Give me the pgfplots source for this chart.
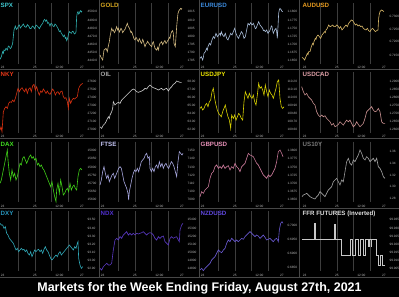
\documentclass[border=0pt]{standalone}
\usepackage{pgfplots}
\pgfplotsset{compat=1.18}
\usepackage{fontspec}
\setmainfont{Liberation Sans}
\definecolor{spxT}{HTML}{40C8D0}\definecolor{spxL}{HTML}{30B0B0}
\definecolor{goldT}{HTML}{D8A820}\definecolor{goldL}{HTML}{D0B880}
\definecolor{eurT}{HTML}{3C8CE0}\definecolor{eurL}{HTML}{A8BCD8}
\definecolor{audT}{HTML}{E89C20}\definecolor{audL}{HTML}{D8B868}
\definecolor{nkyT}{HTML}{E83818}\definecolor{nkyL}{HTML}{D83010}
\definecolor{oilT}{HTML}{A8A8A8}\definecolor{oilL}{HTML}{D0D0D0}
\definecolor{jpyT}{HTML}{F0E800}\definecolor{jpyL}{HTML}{D8D000}
\definecolor{cadT}{HTML}{E0A0A8}\definecolor{cadL}{HTML}{C89090}
\definecolor{daxT}{HTML}{40E020}\definecolor{daxL}{HTML}{40D018}
\definecolor{ftseT}{HTML}{C8C8F8}\definecolor{ftseL}{HTML}{A8A8E0}
\definecolor{gbpT}{HTML}{E890B8}\definecolor{gbpL}{HTML}{C87898}
\definecolor{usT}{HTML}{787878}\definecolor{usL}{HTML}{A0A0A0}
\definecolor{dxyT}{HTML}{2898C0}\definecolor{dxyL}{HTML}{30A8B8}
\definecolor{ndxT}{HTML}{5030D0}\definecolor{ndxL}{HTML}{5838C0}
\definecolor{nzdT}{HTML}{6048E0}\definecolor{nzdL}{HTML}{6858D0}
\definecolor{ffrT}{HTML}{E0E0E0}\definecolor{ffrL}{HTML}{C8C8C8}
\pgfplotsset{
 every axis title/.style={at={(0,1)}, anchor=north west, inner sep=0.5bp, yshift=0.5bp,
     font=\bfseries\fontsize{6.2}{6.2}\selectfont},
 panel/.style={
  scale only axis, width=83bp, height=60.5bp, anchor=north west,
  y dir=reverse, clip=false,
  axis line style={draw=none}, tick style={draw=none},
  xmin=0, xmax=249,
  xtick={8,105,178,246}, xticklabels={23,25,12:00,27},
  yticklabel pos=right,
  ticklabel style={font=\fontsize{3.2}{3.5}\selectfont, text=white!72!black},
  xticklabel style={yshift=0.6bp},
  yticklabel style={xshift=1bp},
  extra x ticks={55,105,155,205}, extra x tick labels={},
  extra x tick style={grid=major},
  major grid style={draw=white!24!black, line width=0.8bp},
  every axis plot/.append style={line width=0.6bp, mark=none},
 },
 c3/.style={xmin=6, xmax=255, xtick={14,111,184,252}, extra x ticks={61,111,161,211}},
 r0/.style={ymin=9, ymax=190.5, ytick={35,60,85,109,133,157,181}},
 r1/.style={ymin=22, ymax=203, ytick={48,73,98,122,146,170,194}},
 r2/.style={ymin=19.8, ymax=201.3, ytick={46,71,96,120,144,168,192}},
 r2d/.style={ymin=4.8, ymax=186.3, ytick={31,56,81,105,129,153,177}},
 r3/.style={ymin=32.7, ymax=214.2, ytick={59,84,109,133,157,181,205}},
}
\begin{document}
\begin{tikzpicture}[x=1bp,y=1bp]
\useasboundingbox (0,0) rectangle (399,297);
\fill[black] (0,0) rectangle (399,297);
\foreach \xx in {99.5,199.5,299.5} {\draw[white!28!black, line width=0.5bp] (\xx,297) -- (\xx,19.8);}
\foreach \yy in {227.7,158.4,89.1,19.8} {\draw[white!28!black, line width=0.5bp] (0,\yy) -- (399,\yy);}
\coordinate (p00) at (0,294);   \coordinate (p01) at (100,294);   \coordinate (p02) at (200,294);   \coordinate (p03) at (302,294);
\coordinate (p10) at (0,224.7); \coordinate (p11) at (100,224.7); \coordinate (p12) at (200,224.7); \coordinate (p13) at (302,224.7);
\coordinate (p20) at (0,155.4); \coordinate (p21) at (100,155.4); \coordinate (p22) at (200,155.4); \coordinate (p23) at (302,155.4);
\coordinate (p30) at (0,86.1);  \coordinate (p31) at (100,86.1);  \coordinate (p32) at (200,86.1);  \coordinate (p33) at (302,86.1);

% ---------------- Row 0 ----------------
\begin{axis}[panel, r0, at={(p00)}, title={SPX}, title style={text=spxT},
  yticklabels={4500.0,4490.0,4480.0,4470.0,4460.0,4450.0,4440.0}]
\addplot[spxL] coordinates {(0,178)(4,170)(8,155)(10,160)(12,150)(15,152)(18,145)(22,150)(25,138)(28,140)(31,146)(34,142)(38,130)(42,90)(46,78)(49,88)(52,85)(55,78)(58,75)(61,84)(64,80)(67,76)(70,72)(74,80)(78,82)(82,74)(86,78)(90,86)(94,85)(97,78)(100,80)(104,86)(108,75)(112,78)(115,82)(118,86)(122,78)(125,74)(128,70)(131,62)(134,58)(137,64)(140,60)(143,70)(146,68)(150,78)(153,70)(156,72)(159,78)(162,80)(165,72)(168,75)(171,80)(174,85)(178,95)(181,92)(184,100)(187,104)(190,110)(193,105)(196,115)(198,112)(200,122)(202,118)(204,110)(206,100)(208,95)(211,98)(214,100)(217,94)(220,95)(223,102)(226,100)(228,96)(230,50)(232,38)(234,35)(236,42)(238,40)(240,34)(242,32)(244,36)(246,33)};
\end{axis}

\begin{axis}[panel, r0, at={(p01)}, title={GOLD}, title style={text=goldT},
  yticklabels={1815,1810,1805,1800,1795,1790,1785}]
\addplot[goldL] coordinates {(0,165)(3,172)(5,175)(8,180)(10,165)(12,150)(15,148)(18,145)(22,155)(25,138)(28,125)(30,110)(32,100)(35,85)(38,92)(40,90)(43,98)(45,95)(48,86)(50,80)(53,90)(55,85)(58,96)(60,92)(63,85)(65,88)(68,98)(70,95)(73,90)(75,88)(78,80)(80,75)(82,70)(85,80)(88,84)(90,90)(93,98)(95,95)(98,104)(100,110)(102,116)(105,120)(108,112)(110,115)(113,122)(115,125)(118,116)(120,120)(123,128)(125,130)(128,118)(130,122)(133,134)(135,140)(138,132)(140,130)(143,124)(145,128)(148,132)(150,135)(153,138)(155,140)(158,128)(160,125)(163,138)(165,145)(168,148)(170,150)(173,142)(175,150)(178,136)(180,130)(183,128)(185,125)(188,134)(190,130)(193,124)(195,122)(198,130)(200,128)(203,122)(205,120)(208,112)(210,115)(213,100)(215,95)(218,92)(220,100)(222,130)(224,136)(226,140)(228,110)(230,80)(232,58)(234,40)(236,34)(238,30)(240,28)(242,25)(244,28)(246,25)};
\end{axis}

\begin{axis}[panel, r0, at={(p02)}, title={EURUSD}, title style={text=eurT},
  yticklabels={1.1800,1.1775,1.1750,1.1725,1.1700,1.1675,1.1650}]
\addplot[eurL] coordinates {(0,175)(4,170)(8,180)(10,172)(12,160)(16,155)(20,145)(22,150)(24,140)(28,130)(32,135)(34,126)(36,120)(40,110)(44,115)(46,106)(48,100)(52,110)(56,105)(60,100)(62,106)(64,95)(68,105)(72,110)(74,104)(76,100)(80,115)(84,120)(86,114)(88,110)(92,100)(96,105)(100,95)(104,85)(106,92)(108,100)(112,110)(116,115)(118,108)(120,105)(124,95)(128,100)(130,108)(132,115)(136,110)(138,100)(140,90)(142,80)(144,70)(148,75)(152,68)(156,75)(160,70)(164,80)(166,86)(168,85)(172,75)(174,70)(176,65)(180,75)(184,80)(188,85)(190,92)(192,90)(196,95)(200,90)(204,100)(206,96)(208,95)(212,85)(214,78)(216,80)(218,92)(220,100)(224,90)(228,85)(230,95)(232,115)(234,80)(236,40)(238,30)(240,25)(242,28)(244,30)(246,34)(248,35)};
\end{axis}

\begin{axis}[panel, c3, r0, at={(p03)}, title={AUDUSD}, title style={text=audT},
  ytick={50,87,125,165}, yticklabels={0.7300,0.7250,0.7200,0.7150}]
\addplot[audL] coordinates {(6,172)(10,175)(14,180)(18,170)(22,160)(24,164)(26,155)(30,155)(34,140)(38,130)(40,134)(42,125)(46,115)(48,118)(50,110)(54,105)(58,110)(62,115)(64,110)(66,105)(70,100)(74,95)(76,98)(78,90)(82,85)(86,75)(90,80)(94,78)(98,75)(102,80)(106,80)(110,75)(114,78)(118,85)(122,80)(126,90)(130,85)(134,80)(138,75)(142,80)(146,70)(150,65)(154,60)(158,62)(162,68)(166,75)(170,72)(174,78)(178,75)(182,80)(186,78)(190,85)(194,88)(198,90)(202,85)(206,92)(210,95)(214,88)(218,85)(222,90)(226,95)(230,92)(234,90)(236,55)(238,42)(240,35)(244,30)(248,32)(252,35)};
\end{axis}

% ---------------- Row 1 ----------------
\begin{axis}[panel, r1, at={(p10)}, title={NKY}, title style={text=nkyT},
  yticklabels={27600,27500,27400,27300,27200,27100,27000}]
\addplot[nkyL] coordinates {(0,195)(3,185)(6,200)(8,170)(10,140)(14,130)(18,125)(22,130)(26,115)(30,110)(34,112)(38,105)(42,110)(46,100)(50,85)(54,70)(58,80)(62,72)(66,68)(70,75)(74,80)(78,70)(82,85)(86,72)(90,68)(94,80)(98,62)(102,58)(106,75)(110,65)(114,80)(118,90)(122,78)(126,82)(130,72)(134,78)(138,85)(142,78)(146,85)(150,88)(154,80)(158,72)(162,78)(166,90)(170,82)(174,80)(178,88)(182,80)(186,78)(190,95)(194,100)(198,98)(202,110)(205,130)(208,100)(212,115)(216,105)(220,100)(224,102)(228,98)(232,95)(236,70)(240,62)(244,58)(248,55)};
\end{axis}

\begin{axis}[panel, r1, at={(p11)}, title={OIL}, title style={text=oilT},
  yticklabels={68.00,67.00,66.00,65.00,64.00,63.00,62.00}]
\addplot[oilL] coordinates {(0,185)(5,190)(10,180)(15,175)(18,170)(20,165)(25,155)(28,160)(30,150)(35,140)(38,130)(40,110)(45,120)(50,115)(55,112)(60,115)(65,105)(70,100)(75,95)(80,90)(85,85)(90,80)(95,75)(100,72)(105,75)(110,80)(115,82)(120,80)(125,78)(130,75)(135,70)(140,72)(145,65)(150,60)(155,65)(160,68)(165,70)(170,72)(175,75)(180,72)(185,70)(190,75)(195,72)(200,70)(205,78)(210,70)(215,65)(220,58)(225,55)(230,48)(235,50)(240,52)(245,52)};
\end{axis}

\begin{axis}[panel, r1, at={(p12)}, title={USDJPY}, title style={text=jpyT},
  yticklabels={110.20,110.10,110.00,109.90,109.80,109.70,109.60}]
\addplot[jpyL] coordinates {(0,130)(4,125)(8,135)(12,130)(16,120)(20,115)(24,125)(28,110)(32,105)(36,80)(40,70)(44,100)(48,120)(52,135)(56,145)(60,150)(64,155)(68,140)(72,130)(76,120)(80,140)(84,155)(88,165)(92,190)(95,150)(100,160)(104,150)(108,165)(112,155)(116,145)(120,150)(124,160)(128,165)(132,110)(136,80)(140,90)(144,100)(148,85)(152,95)(156,100)(160,90)(164,110)(168,120)(172,90)(176,55)(180,70)(184,65)(188,75)(192,90)(196,60)(200,80)(204,95)(208,75)(212,85)(216,90)(220,100)(224,85)(228,70)(232,50)(236,45)(240,100)(244,125)(248,130)(252,125)};
\end{axis}

\begin{axis}[panel, c3, r1, at={(p13)}, title={USDCAD}, title style={text=cadT},
  yticklabels={1.2900,1.2850,1.2800,1.2750,1.2700,1.2650,1.2600}]
\addplot[cadL] coordinates {(5,65)(10,80)(15,90)(20,85)(25,95)(30,100)(35,105)(40,115)(45,120)(50,140)(55,150)(60,155)(65,150)(70,155)(75,152)(80,160)(85,165)(90,170)(95,180)(100,175)(105,185)(110,182)(115,178)(120,170)(125,175)(130,180)(135,172)(140,165)(145,170)(150,165)(155,175)(160,185)(165,180)(170,170)(175,178)(180,185)(185,180)(190,175)(195,160)(200,140)(205,135)(210,130)(215,125)(220,135)(225,140)(230,138)(235,130)(240,140)(245,170)(250,175)(255,175)};
\end{axis}

% ---------------- Row 2 ----------------
\begin{axis}[panel, r2d, at={(p20)}, title={DAX}, title style={text=daxT},
  yticklabels={15900,15850,15800,15750,15700,15650,15600}]
\addplot[daxL] coordinates {(0,130)(4,120)(8,100)(12,80)(16,60)(20,40)(22,30)(24,60)(28,100)(32,120)(36,90)(40,110)(44,100)(48,120)(52,110)(56,90)(60,70)(64,75)(68,55)(72,50)(76,60)(80,70)(84,60)(88,50)(92,45)(96,55)(100,50)(104,60)(108,55)(112,75)(116,70)(120,80)(124,75)(128,85)(132,90)(136,100)(140,110)(144,120)(148,130)(152,140)(156,125)(160,150)(164,170)(168,185)(170,150)(174,130)(178,160)(182,120)(186,140)(190,165)(194,160)(198,150)(202,145)(206,155)(210,130)(214,150)(218,140)(222,135)(226,145)(230,150)(234,110)(238,90)(242,85)(246,90)};
\end{axis}

\begin{axis}[panel, r2, at={(p21)}, title={FTSE}, title style={text=ftseT},
  yticklabels={7150,7140,7130,7120,7110,7100,7090}]
\addplot[ftseL] coordinates {(0,150)(4,135)(8,110)(12,95)(16,115)(20,130)(24,120)(28,140)(32,130)(36,120)(40,115)(44,130)(48,120)(52,110)(56,100)(60,95)(64,100)(68,120)(72,140)(76,150)(80,160)(84,175)(86,195)(88,170)(92,150)(96,130)(100,115)(104,105)(108,110)(112,100)(116,110)(120,95)(124,80)(128,75)(132,70)(136,60)(140,55)(144,70)(148,65)(150,100)(154,110)(158,100)(162,110)(166,95)(170,90)(174,100)(178,80)(182,95)(186,85)(190,100)(194,90)(198,85)(202,95)(206,100)(210,90)(214,80)(218,85)(222,95)(226,110)(230,125)(234,80)(238,50)(242,55)(246,60)(249,55)};
\end{axis}

\begin{axis}[panel, r2, at={(p22)}, title={GBPUSD}, title style={text=gbpT},
  yticklabels={1.3800,1.3775,1.3750,1.3725,1.3700,1.3675,1.3650}]
\addplot[gbpL] coordinates {(0,185)(5,170)(10,175)(15,165)(20,160)(25,155)(30,130)(35,115)(40,110)(45,95)(50,90)(55,100)(60,95)(65,100)(70,90)(75,100)(80,95)(85,92)(90,105)(95,95)(100,100)(105,85)(110,95)(115,100)(120,110)(125,95)(130,90)(135,85)(140,70)(145,55)(150,60)(155,62)(160,65)(165,75)(170,85)(175,90)(180,100)(185,110)(190,120)(195,125)(200,130)(205,120)(210,125)(215,120)(220,110)(225,100)(230,80)(235,50)(240,45)(245,55)(249,65)};
\end{axis}

\begin{axis}[panel, c3, r2, at={(p23)}, title={US10Y}, title style={text=usT},
  ytick={50,85,120,155,190}, yticklabels={1.36,1.34,1.32,1.30,1.28}]
\addplot[usL] coordinates {(6,185)(10,180)(15,178)(20,175)(25,180)(30,185)(35,188)(40,190)(45,192)(50,185)(55,180)(60,170)(65,175)(70,180)(75,185)(80,175)(85,165)(90,160)(95,155)(100,140)(105,135)(110,130)(115,140)(120,150)(125,135)(130,140)(135,110)(140,80)(145,70)(150,85)(155,90)(160,75)(165,80)(170,70)(175,60)(180,45)(185,55)(190,70)(195,75)(200,65)(205,70)(210,80)(215,75)(220,70)(225,80)(230,70)(235,95)(240,100)(245,110)(250,125)(255,130)};
\end{axis}

% ---------------- Row 3 ----------------
\begin{axis}[panel, r3, at={(p30)}, title={DXY}, title style={text=dxyT},
  yticklabels={93.50,93.40,93.30,93.20,93.10,93.00,92.90}]
\addplot[dxyL] coordinates {(0,70)(4,75)(8,75)(12,85)(16,80)(20,100)(24,105)(28,115)(32,120)(36,125)(40,130)(44,140)(48,150)(52,145)(56,155)(60,150)(64,145)(68,150)(72,148)(76,155)(80,150)(84,160)(88,165)(92,155)(96,170)(100,160)(104,150)(108,155)(112,150)(116,148)(120,155)(124,150)(128,160)(132,148)(136,140)(140,150)(144,155)(148,165)(152,175)(156,180)(160,175)(164,170)(168,165)(172,170)(176,160)(180,155)(184,165)(188,160)(192,155)(196,150)(200,145)(204,140)(208,135)(212,140)(216,145)(220,150)(224,140)(228,145)(232,130)(234,125)(236,175)(240,195)(244,205)(248,200)};
\end{axis}

\begin{axis}[panel, r3, at={(p31)}, title={NDX}, title style={text=ndxT},
  yticklabels={15400,15300,15200,15100,15000,14900,14800}]
\addplot[ndxL] coordinates {(0,205)(5,210)(10,200)(15,195)(20,190)(25,195)(30,195)(35,190)(40,150)(45,120)(50,115)(55,120)(60,110)(65,115)(70,105)(75,100)(80,95)(85,105)(90,100)(95,105)(100,100)(105,105)(110,100)(115,102)(120,100)(125,98)(130,95)(135,100)(140,105)(145,100)(150,98)(155,100)(160,105)(165,115)(170,120)(175,110)(180,115)(185,110)(190,108)(195,125)(200,130)(205,135)(210,115)(215,110)(220,115)(225,112)(230,110)(235,120)(238,125)(240,90)(245,75)(249,70)};
\end{axis}

\begin{axis}[panel, r3, at={(p32)}, title={NZDUSD}, title style={text=nzdT},
  ytick={75,118,160,203}, yticklabels={0.7000,0.6950,0.6900,0.6850}]
\addplot[nzdL] coordinates {(0,210)(5,205)(10,212)(15,205)(20,200)(25,195)(30,190)(35,180)(40,175)(45,170)(50,160)(55,150)(60,155)(65,158)(70,150)(75,145)(80,130)(85,120)(90,125)(95,115)(100,120)(105,125)(110,120)(115,125)(120,120)(125,115)(130,118)(135,110)(140,105)(145,100)(150,95)(155,100)(160,105)(165,110)(170,105)(175,108)(180,115)(185,110)(190,105)(195,112)(200,120)(205,118)(210,115)(215,120)(220,125)(225,118)(230,115)(235,125)(238,90)(242,70)(246,65)(249,70)};
\end{axis}

\begin{axis}[panel, c3, r3, at={(p33)}, title={FFR FUTURES (Inverted)}, title style={text=ffrT},
  yticklabels={99.935,99.930,99.925,99.920,99.915,99.910,99.905}]
\addplot[ffrL, line width=0.4bp] coordinates {(6,118)(44,118)(44,70)(45,70)(45,118)(104,118)(104,74)(105,74)(105,118)(125,118)(125,165)(150,165)(150,118)(158,118)(158,165)(166,165)(166,118)(174,118)(174,165)(182,165)(182,118)(190,118)(190,165)(196,165)(196,118)(206,118)(206,140)(207,140)(207,118)(214,118)(214,140)(215,140)(215,118)(230,118)(230,165)(236,165)(236,195)(242,195)(242,165)(248,165)(248,195)(255,195)};
\end{axis}

\node[text=white, font=\bfseries\fontsize{12.5}{12.5}\selectfont] at (199.5,9) {Markets for the Week Ending Friday, August 27th, 2021};
\end{tikzpicture}
\end{document}
